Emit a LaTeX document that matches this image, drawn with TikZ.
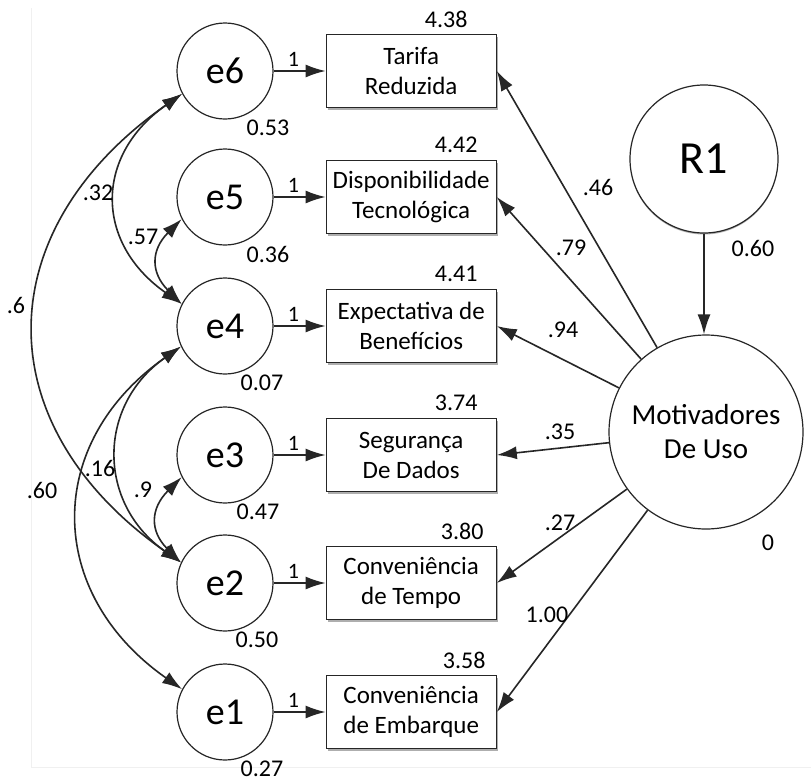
\documentclass[tikz,border=0pt]{standalone}
\usepackage{fontspec}
\setmainfont{Carlito}
\usepackage{tikz}
\usetikzlibrary{shadows}
\usetikzlibrary{arrows.meta}
\usetikzlibrary{positioning}

\begin{document}
\begin{tikzpicture}[x=1pt,y=1pt]

%\draw[help lines,step=50] (0,0) grid (811,-782);

% Define block styles
\tikzstyle{erro} = [draw=black!85, circle, fill=white, line width=1.2pt,
  text=black, minimum size=96pt, inner sep=0pt, font=\fontsize{38}{40}\selectfont]
\tikzstyle{latente} = [erro, minimum size=194pt, align=center,
  font=\fontsize{29}{34}\selectfont]
\tikzstyle{medida} = [draw=black!85, fill=white, line width=1.2pt, text=black,
  minimum width=170pt, minimum height=73pt, align=center,
  font=\fontsize{25}{30}\selectfont,
  drop shadow={shadow xshift=2pt, shadow yshift=-2pt, fill=black!45, opacity=0.7}]
\tikzstyle{valor} = [font=\fontsize{24}{28}\selectfont, inner sep=1pt, text=black]
\tikzstyle{peso} = [valor, font=\fontsize{22}{26}\selectfont, above=3pt, pos=0.38]
\tikzstyle{line} = [draw=black!85, line width=1.6pt,
  -{Latex[length=20pt,width=13pt]}]
\tikzstyle{cov} = [line, {Latex[length=20pt,width=13pt]}-{Latex[length=20pt,width=13pt]}]

% Page and faint frame
\path[fill=white] (0,0) rectangle (811,-782);
\useasboundingbox (0,0) rectangle (811,-782);
\draw[black!6, line width=1pt] (31,-8) -- (31,-767) -- (811,-767);

% Error, indicator, loading 1, variance and mean
\newcommand{\indicador}[7]{%
  \path (225,#2) node (e#1) [erro] {e#1};
  \path node (i#1) [medida, right=52pt of e#1] {#3};
  \path [line] (e#1) -- node (u#1) [peso] {1} (i#1);
  \path (e#1)+(#5,-57) node (v#1) [valor] {#4};
  \path (i#1)+(#7,52) node (m#1) [valor] {#6};}

% Draw diagram elements
\indicador{6}{-71}{Tarifa\\Reduzida}{0.53}{43}{4.38}{35}
\indicador{5}{-197}{Disponibilidade\\Tecnológica}{0.36}{43}{4.42}{45}
\indicador{4}{-326}{Expectativa de\\Benefícios}{0.07}{37}{4.41}{45}
\indicador{3}{-455}{Segurança\\De Dados}{0.47}{33}{3.74}{45}
\indicador{2}{-583}{Conveniência\\de Tempo}{0.50}{32}{3.80}{51}
\indicador{1}{-712}{Conveniência\\de Embarque}{0.27}{37}{3.58}{53}

% Latent factor and residual
\path (704,-159) node (r1) [latente, minimum size=148pt,
  font=\fontsize{46}{50}\selectfont,
  drop shadow={shadow xshift=0pt, shadow yshift=-1.5pt, fill=black!60}] {R1};
\path (706,-432) node (mot) [latente] {Motivadores\\De Uso};
\path [line] (r1) -- (r1 |- mot.north);
\path (r1)+(49,-89) node (vr) [valor] {0.60};
\path (mot)+(62,-111) node (vm) [valor] {0};

% Loadings
\path [line] (mot) -- (i6.east);
\path [line] (mot) -- (i5.east);
\path [line] (mot) -- (i4.east);
\path [line] (mot) -- (i3.east);
\path [line] (mot) -- (i2.east);
\path [line] (mot) -- (i1.east);
\path (598,-187) node (c6) [valor] {.46};
\path (571,-248) node (c5) [valor] {.79};
\path (563,-330) node (c4) [valor] {.94};
\path (560,-432) node (c3) [valor] {.35};
\path (560,-523) node (c2) [valor] {.27};
\path (547,-615) node (c1) [valor] {1.00};

% Error covariances
\path [cov] (e6.208) to [out=215, in=145, looseness=1.3] (e4.153);
\path [cov] (e5.207) to [out=225, in=135, looseness=1.33] (e4.153);
\path [cov] (e6.208) to [out=215, in=145, looseness=1.3] (e2.155);
\path [cov] (e4.205) to [out=215, in=145, looseness=1.22] (e2.155);
\path [cov] (e3.207) to [out=225, in=135, looseness=1.33] (e2.155);
\path [cov] (e4.205) to [out=215, in=145, looseness=1.25] (e1.152);
\path (98,-193) node (k64) [valor] {.32};
\path (143,-237) node (k54) [valor] {.57};
\path (16,-305) node (k62) [valor] {.6};
\path (100,-468) node (k42) [valor] {.16};
\path (143,-490) node (k32) [valor] {.9};
\path (42,-490) node (k41) [valor] {.60};

\end{tikzpicture}
\end{document}
